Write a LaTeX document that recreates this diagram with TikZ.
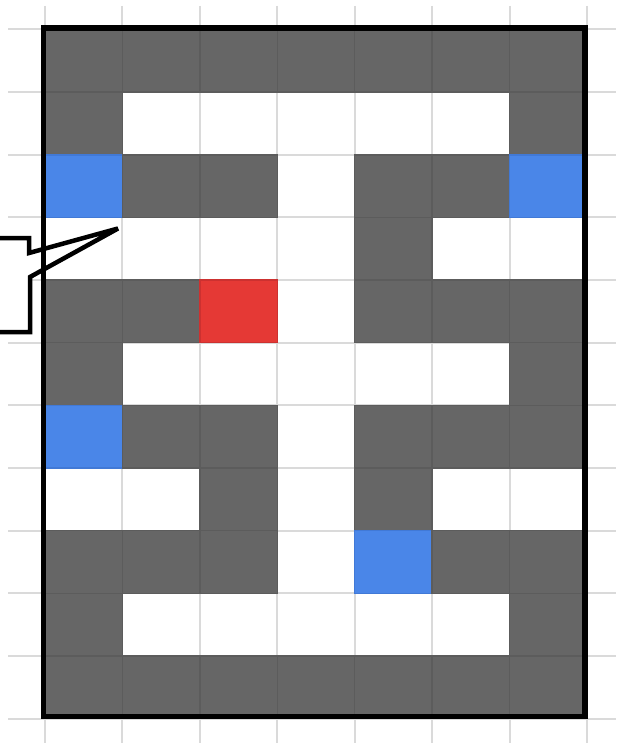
\documentclass[tikz,border=0pt]{standalone}
\definecolor{wall}{HTML}{666666}
\definecolor{wallline}{HTML}{5C5C5C}
\definecolor{bluec}{HTML}{4A86E8}
\definecolor{bluel}{HTML}{4179D6}
\definecolor{redc}{HTML}{E53935}
\definecolor{redl}{HTML}{CC3130}
\definecolor{gridc}{HTML}{DADADA}
\begin{document}
\begin{tikzpicture}[x=1pt,y=-1pt,
  gridline/.style={draw=gridc,line width=2pt},
  cD/.style={fill=wall,draw=wallline,line width=1.5pt},
  cB/.style={fill=bluec,draw=bluel,line width=1.5pt},
  cR/.style={fill=redc,draw=redl,line width=1.5pt},
  cW/.style={},
  frame/.style={draw=black,line width=5.5pt},
  callout/.style={draw=black,fill=white,line width=4.5pt,line join=miter,miter limit=2}]
\useasboundingbox (0,0) rectangle (616,743);
% light background grid
\foreach \i in {0,...,7}
  \draw[gridline] (45+\i*77.43,6) -- (45+\i*77.43,743);
\foreach \j in {0,...,11}
  \draw[gridline] (8,29.5+\j*62.64) -- (616,29.5+\j*62.64);
% cells
\foreach \r/\row in {
  0/{D,D,D,D,D,D,D},
  1/{D,W,W,W,W,W,D},
  2/{B,D,D,W,D,D,B},
  3/{W,W,W,W,D,W,W},
  4/{D,D,R,W,D,D,D},
  5/{D,W,W,W,W,W,D},
  6/{B,D,D,W,D,D,D},
  7/{W,W,D,W,D,W,W},
  8/{D,D,D,W,B,D,D},
  9/{D,W,W,W,W,W,D},
  10/{D,D,D,D,D,D,D}}
{
  \foreach \t [count=\c from 0] in \row
    \path[c\t] (45+\c*77.43,29.5+\r*62.64) rectangle (122.43+\c*77.43,92.14+\r*62.64);
}
% callout
\coordinate (tip) at (118,228.5);
\draw[callout] (-5,238) -- (29,238) -- (29,253) -- (tip) -- (30,277) -- (30,332) -- (-5,332);
% frame
\draw[frame] (43.5,28) rectangle (585,716.5);
\end{tikzpicture}
\end{document}
